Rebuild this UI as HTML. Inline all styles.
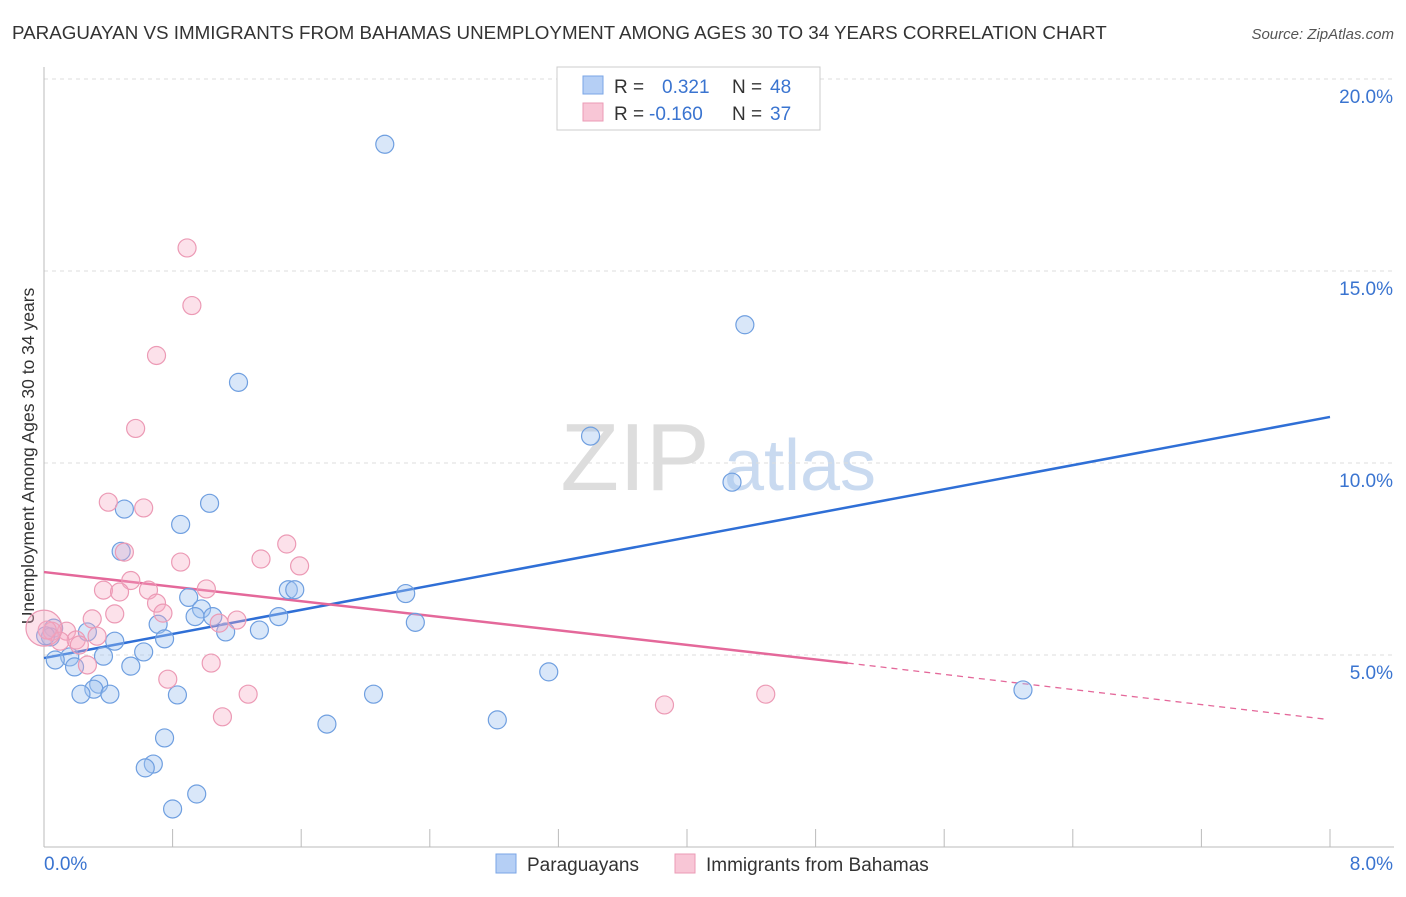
<!DOCTYPE html>
<html><head><meta charset="utf-8"><style>
body{margin:0;background:#fff;font-family:"Liberation Sans",sans-serif;}
svg text{font-family:"Liberation Sans",sans-serif;}
</style></head><body>
<svg id="chart" width="1406" height="892" xmlns="http://www.w3.org/2000/svg">
<text x="12" y="39" font-size="18.8" fill="#333">PARAGUAYAN VS IMMIGRANTS FROM BAHAMAS UNEMPLOYMENT AMONG AGES 30 TO 34 YEARS CORRELATION CHART</text>
<text x="1394" y="39" font-size="15" fill="#555" text-anchor="end" font-style="italic">Source: ZipAtlas.com</text>
<text transform="translate(34,456) rotate(-90)" font-size="17.5" fill="#333" text-anchor="middle">Unemployment Among Ages 30 to 34 years</text>
<g>
<text x="635" y="490" font-size="96" fill="#ddd" font-family="Liberation Serif" text-anchor="middle">ZIP</text>
<text x="800" y="490" font-size="72" fill="#c9daf0" text-anchor="middle">atlas</text>
</g>
<g id="grid"></g><g id="axes"></g><g id="lines"></g><g id="points"></g>
<g>
<rect x="557" y="67" width="263" height="63" fill="#fff" stroke="#ccc"/>
<rect x="583" y="76" width="20" height="18" fill="#b5cff5" stroke="#7aa5e6"/>
<text x="614" y="93" font-size="19" fill="#333">R = </text><text x="662" y="93" font-size="19" fill="#3a74d0">0.321</text>
<text x="732" y="93" font-size="19" fill="#333">N = </text><text x="770" y="93" font-size="19" fill="#3a74d0">48</text>
<rect x="583" y="103" width="20" height="18" fill="#f8c6d6" stroke="#eb9bb6"/>
<text x="614" y="120" font-size="19" fill="#333">R = </text><text x="649" y="120" font-size="19" fill="#3a74d0">-0.160</text>
<text x="732" y="120" font-size="19" fill="#333">N = </text><text x="770" y="120" font-size="19" fill="#3a74d0">37</text>
</g>
<g>
<rect x="496" y="854" width="20" height="19" fill="#b5cff5" stroke="#7aa5e6"/>
<text x="527" y="871" font-size="19" fill="#333">Paraguayans</text>
<rect x="675" y="854" width="20" height="19" fill="#f8c6d6" stroke="#eb9bb6"/>
<text x="706" y="871" font-size="19" fill="#333">Immigrants from Bahamas</text>
</g>
</svg>
<script>
const xTicks=[0,0.8,1.6,2.4,3.2,4,4.8,5.6,6.4,7.2,8];
const yTicks=[5,10,15,20];
const yTickLabels=["5.0%","10.0%","15.0%","20.0%"];
const xLabels=["0.0%","8.0%"];
const paraX=[2.12,4.36,1.21,3.40,4.28,1.03,0.50,0.85,0.48,2.25,1.52,1.56,0.90,0.98,0.94,1.05,1.46,2.31,0.71,1.13,1.34,0.27,0.06,0.04,0.44,0.75,0.62,0.37,0.16,0.07,0.19,0.54,3.14,0.34,0.31,0.23,0.41,0.83,2.05,6.09,2.82,1.76,0.75,0.68,0.63,0.95,0.80,0.01];
const paraY=[18.3,13.6,12.1,10.7,9.5,8.95,8.8,8.4,7.7,6.6,6.7,6.7,6.5,6.2,6.0,6.0,6.0,5.85,5.8,5.6,5.65,5.6,5.7,5.47,5.36,5.42,5.08,4.97,4.95,4.87,4.69,4.71,4.56,4.24,4.11,3.98,3.98,3.96,3.98,4.09,3.31,3.2,2.84,2.16,2.06,1.38,0.99,5.5];
const bahX=[0.89,0.92,0.70,0.57,0.40,0.62,0.50,0.85,1.35,1.51,1.59,0.54,1.01,0.37,0.47,0.65,0.70,0.74,0.44,0.30,1.20,1.09,0.14,0.05,0.33,0.20,0.22,0.10,0.02,0.27,1.04,0.77,1.27,1.11,3.86,4.49,0.0];
const bahY=[15.6,14.1,12.8,10.9,8.98,8.83,7.68,7.42,7.5,7.89,7.32,6.94,6.72,6.69,6.64,6.69,6.35,6.09,6.07,5.94,5.91,5.83,5.62,5.62,5.49,5.39,5.26,5.36,5.65,4.74,4.79,4.37,3.98,3.39,3.7,3.98,5.7];
const bahSize=[9,9,9,9,9,9,9,9,9,9,9,9,9,9,9,9,9,9,9,9,9,9,9,9,9,9,9,9,9,9,9,9,9,9,9,9,18];
const blueLine=[0,4.92,8,11.2];
const pinkLine=[0,7.16,5.0,4.79,7.97,3.33];
const X=v=>44+v*160.75, Y=v=>847-v*38.4;
const NS="http://www.w3.org/2000/svg";
function mk(parent,tag,attrs){const e=document.createElementNS(NS,tag);for(const k in attrs)e.setAttribute(k,attrs[k]);document.getElementById(parent).appendChild(e);return e;}
yTicks.forEach((t,i)=>{
 const g=mk('grid','line',{x1:44,x2:1394,y1:Y(t),y2:Y(t),stroke:'#ddd','stroke-dasharray':'4,4'});
 
 
 const l=mk('grid','text',{x:1393,y:Y(t)+24,'font-size':19,fill:'#3a74d0','text-anchor':'end'});l.textContent=yTickLabels[i];
 
 
});
const topLine=mk('grid','line',{x1:44,x2:1394,y1:79,y2:79,stroke:'#ddd','stroke-dasharray':'4,4'});


const ya=mk('axes','line',{x1:44,x2:44,y1:67,y2:847,stroke:'#bbb'});


const xa=mk('axes','line',{x1:44,x2:1394,y1:847,y2:847,stroke:'#bbb'});


xTicks.forEach(t=>{const e=mk('axes','line',{x1:X(t),x2:X(t),y1:829,y2:847,stroke:'#bbb'});
 
 });
[[0,'start',44],[1,'end',1393]].forEach(([i,a,x])=>{const e=mk('axes','text',{x:x,y:870,'font-size':19,fill:'#3a74d0','text-anchor':a});e.textContent=xLabels[i];
 
 });
paraX.forEach((x,i)=>{const c=mk('points','circle',{cx:X(x),cy:Y(paraY[i]),r:9,fill:'rgba(160,196,240,0.4)',stroke:'#6f9fe0','stroke-width':1.2});
 
 });
bahX.forEach((x,i)=>{const c=mk('points','circle',{cx:X(x),cy:Y(bahY[i]),r:bahSize[i],fill:'rgba(245,170,195,0.35)',stroke:'#ec9ab5','stroke-width':1.2});
 
 });
const bl=mk('lines','line',{x1:X(blueLine[0]),y1:Y(blueLine[1]),x2:X(blueLine[2]),y2:Y(blueLine[3]),stroke:'#2f6fd6','stroke-width':2.5});


const pl=mk('lines','line',{x1:X(pinkLine[0]),y1:Y(pinkLine[1]),x2:X(pinkLine[2]),y2:Y(pinkLine[3]),stroke:'#e4689a','stroke-width':2.5});


const pd=mk('lines','line',{x1:X(pinkLine[2]),y1:Y(pinkLine[3]),x2:X(pinkLine[4]),y2:Y(pinkLine[5]),stroke:'#e4689a','stroke-width':1.3,'stroke-dasharray':'6,5'});


</script>
</body></html>
